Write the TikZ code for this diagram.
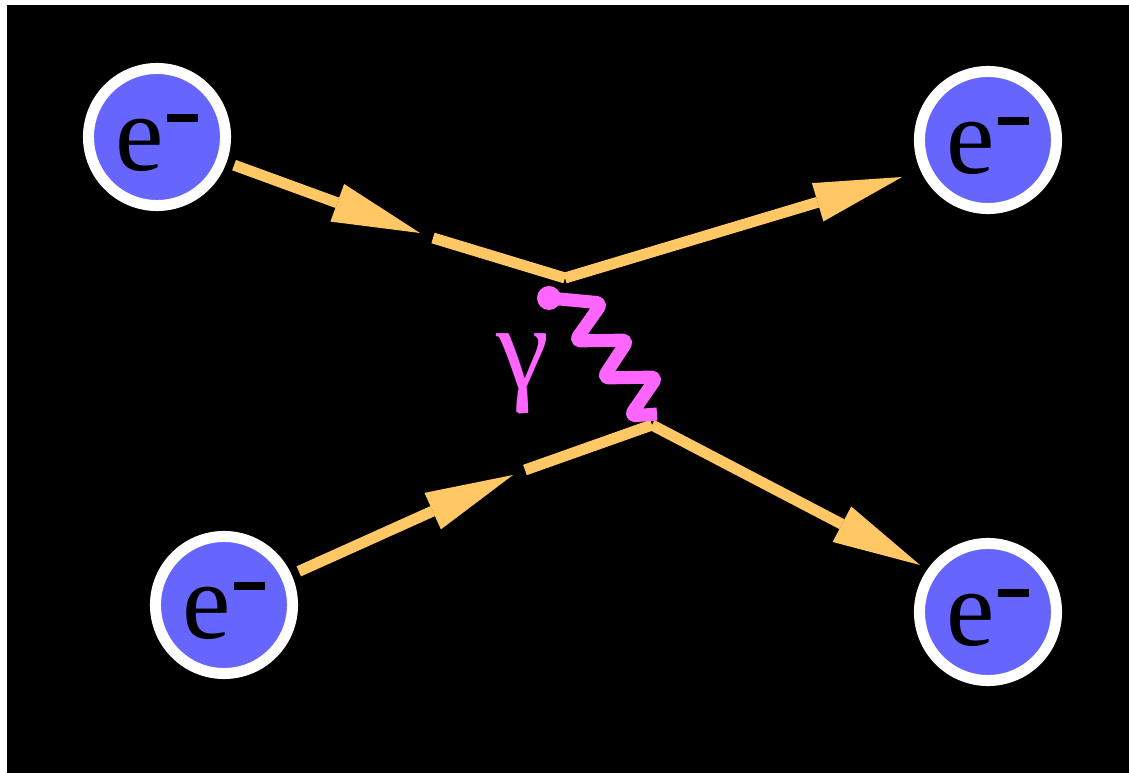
\documentclass[tikz,border=0pt]{standalone}
\usepackage{fontspec}
\setmainfont{Liberation Serif}
\usetikzlibrary{arrows.meta}
\definecolor{eblue}{RGB}{102,102,255}
\definecolor{fermi}{RGB}{255,200,100}
\definecolor{photo}{RGB}{255,102,255}
\newcommand{\elabel}{e\hspace{0.03cm}\rule[0.48cm]{0.31cm}{0.08cm}}
\begin{document}
\begin{tikzpicture}[x=0.01cm, y=-0.01cm, line join=round,
    electron/.style={circle, draw=white, fill=eblue, line width=0.11cm, minimum size=1.37cm, inner sep=0pt, text height=0.66cm, text depth=0pt, font=\fontsize{31}{36}\selectfont},
    fermion/.style={draw=fermi, line width=0.11cm},
    fermarrow/.style={fermion, -{Triangle[length=0.88cm, width=0.40cm, line width=0pt]}},
    photon/.style={draw=photo, line width=0.13cm, rounded corners=0.06cm},
    glabel/.style={text=photo, font=\fontsize{34}{40}\selectfont}]
    \fill[white] (0,0) rectangle (1129,773);
    \fill[black] (7,5) rectangle (1129,773);
    \node[electron] (eTL) at (157,137) {\elabel};
    \node[electron] (eBL) at (224,605) {\elabel};
    \node[electron] (eTR) at (988,140) {\elabel};
    \node[electron] (eBR) at (988,612) {\elabel};
    \coordinate (vTop) at (565,278);
    \coordinate (vBot) at (652,425);
    \coordinate (tipTL) at (420,233);
    \coordinate (gapTL) at (433,238);
    \coordinate (tipBL) at (513,475);
    \coordinate (gapBL) at (525,470);
    \coordinate (tipTR) at (902,177);
    \coordinate (tipBR) at (920,565);
    \draw[fermarrow, shorten <=0.08cm] (eTL) -- (tipTL);
    \draw[fermion] (gapTL) -- (vTop);
    \draw[fermarrow] (vTop) -- (tipTR);
    \draw[fermarrow, shorten <=0.08cm] (eBL) -- (tipBL);
    \draw[fermion] (gapBL) -- (vBot);
    \draw[fermarrow] (vBot) -- (tipBR);
    \coordinate (ph0) at (549,298);
    \draw[photon] (ph0) -- (602,303) -- (575,341) -- (628,340) -- (603,378) -- (657,377) -- (630,416) -- (657,414);
    \fill[photo] (ph0) circle (0.12cm);
    \node[glabel] (gam) at (523,374) {γ};
\end{tikzpicture}
\end{document}
